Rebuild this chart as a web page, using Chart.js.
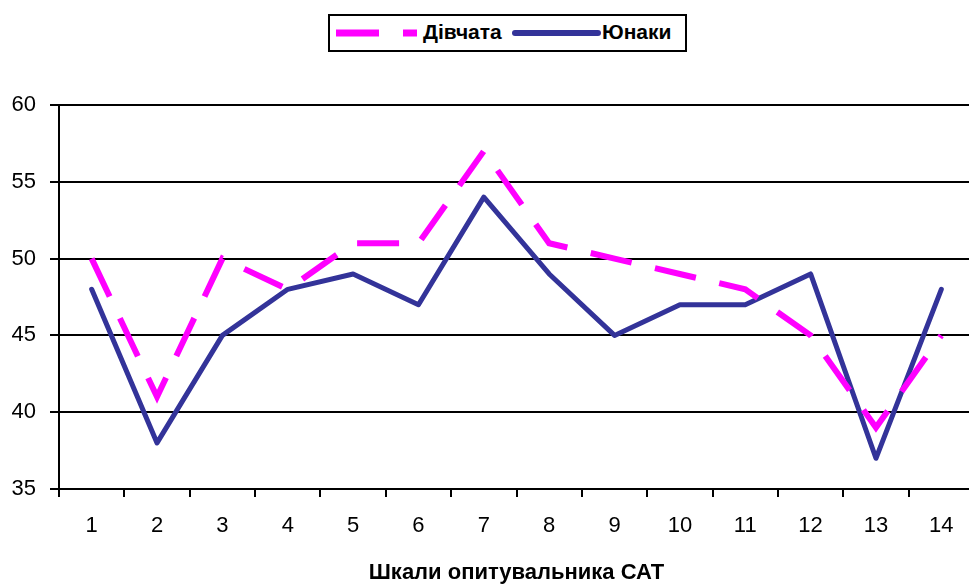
<!DOCTYPE html>
<html>
<head>
<meta charset="utf-8">
<script src="https://cdn.jsdelivr.net/npm/chart.js@4"></script>
<style>
  html, body { margin: 0; padding: 0; background: #fff; overflow: hidden; }
  #wrap { position: relative; width: 975px; height: 586px; }
  #legenda {
    position: absolute; left: 328px; top: 14px; width: 355px; height: 34px;
    border: 2px solid #000; background: #fff;
    font: bold 21px "Liberation Sans", Arial, sans-serif; color: #000;
  }
  #legenda svg { position: absolute; top: 0; left: 0; }
  #legenda span { position: absolute; top: 4px; }
</style>
</head>
<body>
<div id="wrap">
  <canvas id="grafico" width="975" height="586"></canvas>
  <div id="legenda">
    <svg width="355" height="34">
      <line x1="6" y1="17" x2="87" y2="17" stroke="#ff00ff" stroke-width="7" stroke-dasharray="43 24"></line>
      <line x1="185" y1="17" x2="268" y2="17" stroke="#333399" stroke-width="6" stroke-linecap="round"></line>
    </svg>
    <span style="left: 93px">Дівчата</span>
    <span style="left: 272px">Юнаки</span>
  </div>
</div>
<script>
'use strict';

const escalas = ['1', '2', '3', '4', '5', '6', '7', '8', '9', '10', '11', '12', '13', '14'];
const divchata = [50, 41, 50, 48, 51, 51, 57, 51, 50, 49, 48, 45, 39, 45];
const yunaky = [48, 38, 45, 48, 49, 47, 54, 49, 45, 47, 47, 49, 37, 48];

const fuente = '"Liberation Sans", Arial, sans-serif';

const ctx = document.getElementById('grafico').getContext('2d');

new Chart(ctx, {
    type: 'line',
    data: {
        labels: escalas,
        datasets: [
            {
                label: 'Дівчата',
                data: divchata,
                borderColor: '#ff00ff',
                backgroundColor: '#ff00ff',
                borderWidth: 6,
                borderDash: [42, 24],
                borderCapStyle: 'butt',
                pointRadius: 0,
                tension: 0,
                fill: false
            },
            {
                label: 'Юнаки',
                data: yunaky,
                borderColor: '#333399',
                backgroundColor: '#333399',
                borderWidth: 5,
                borderCapStyle: 'round',
                borderJoinStyle: 'round',
                pointRadius: 0,
                tension: 0,
                fill: false
            }
        ]
    },
    options: {
        responsive: false,
        animation: false,
        layout: { padding: { top: 105, left: 0, right: 1, bottom: 0 } },
        plugins: {
            legend: { display: false },
            tooltip: { enabled: false }
        },
        scales: {
            x: {
                offset: true,
                grid: {
                    offset: true,
                    drawOnChartArea: false,
                    color: '#000',
                    lineWidth: 2,
                    tickLength: 8
                },
                border: { display: false },
                ticks: {
                    color: '#000',
                    padding: 16,
                    maxRotation: 0,
                    font: { family: fuente, size: 22 }
                },
                title: {
                    display: true,
                    text: 'Шкали опитувальника САТ',
                    color: '#000',
                    padding: { top: 0, bottom: 0 },
                    font: { family: fuente, size: 22, weight: 'bold' }
                },
                afterFit: s => { s.height = 97; }
            },
            y: {
                min: 35,
                max: 60,
                grid: {
                    color: '#000',
                    lineWidth: 2,
                    tickLength: 9
                },
                border: { display: true, color: '#000', width: 2 },
                ticks: {
                    stepSize: 5,
                    color: '#000',
                    padding: 14,
                    font: { family: fuente, size: 22 }
                },
                afterFit: s => { s.width = 59; }
            }
        }
    }
});
</script>
</body>
</html>
